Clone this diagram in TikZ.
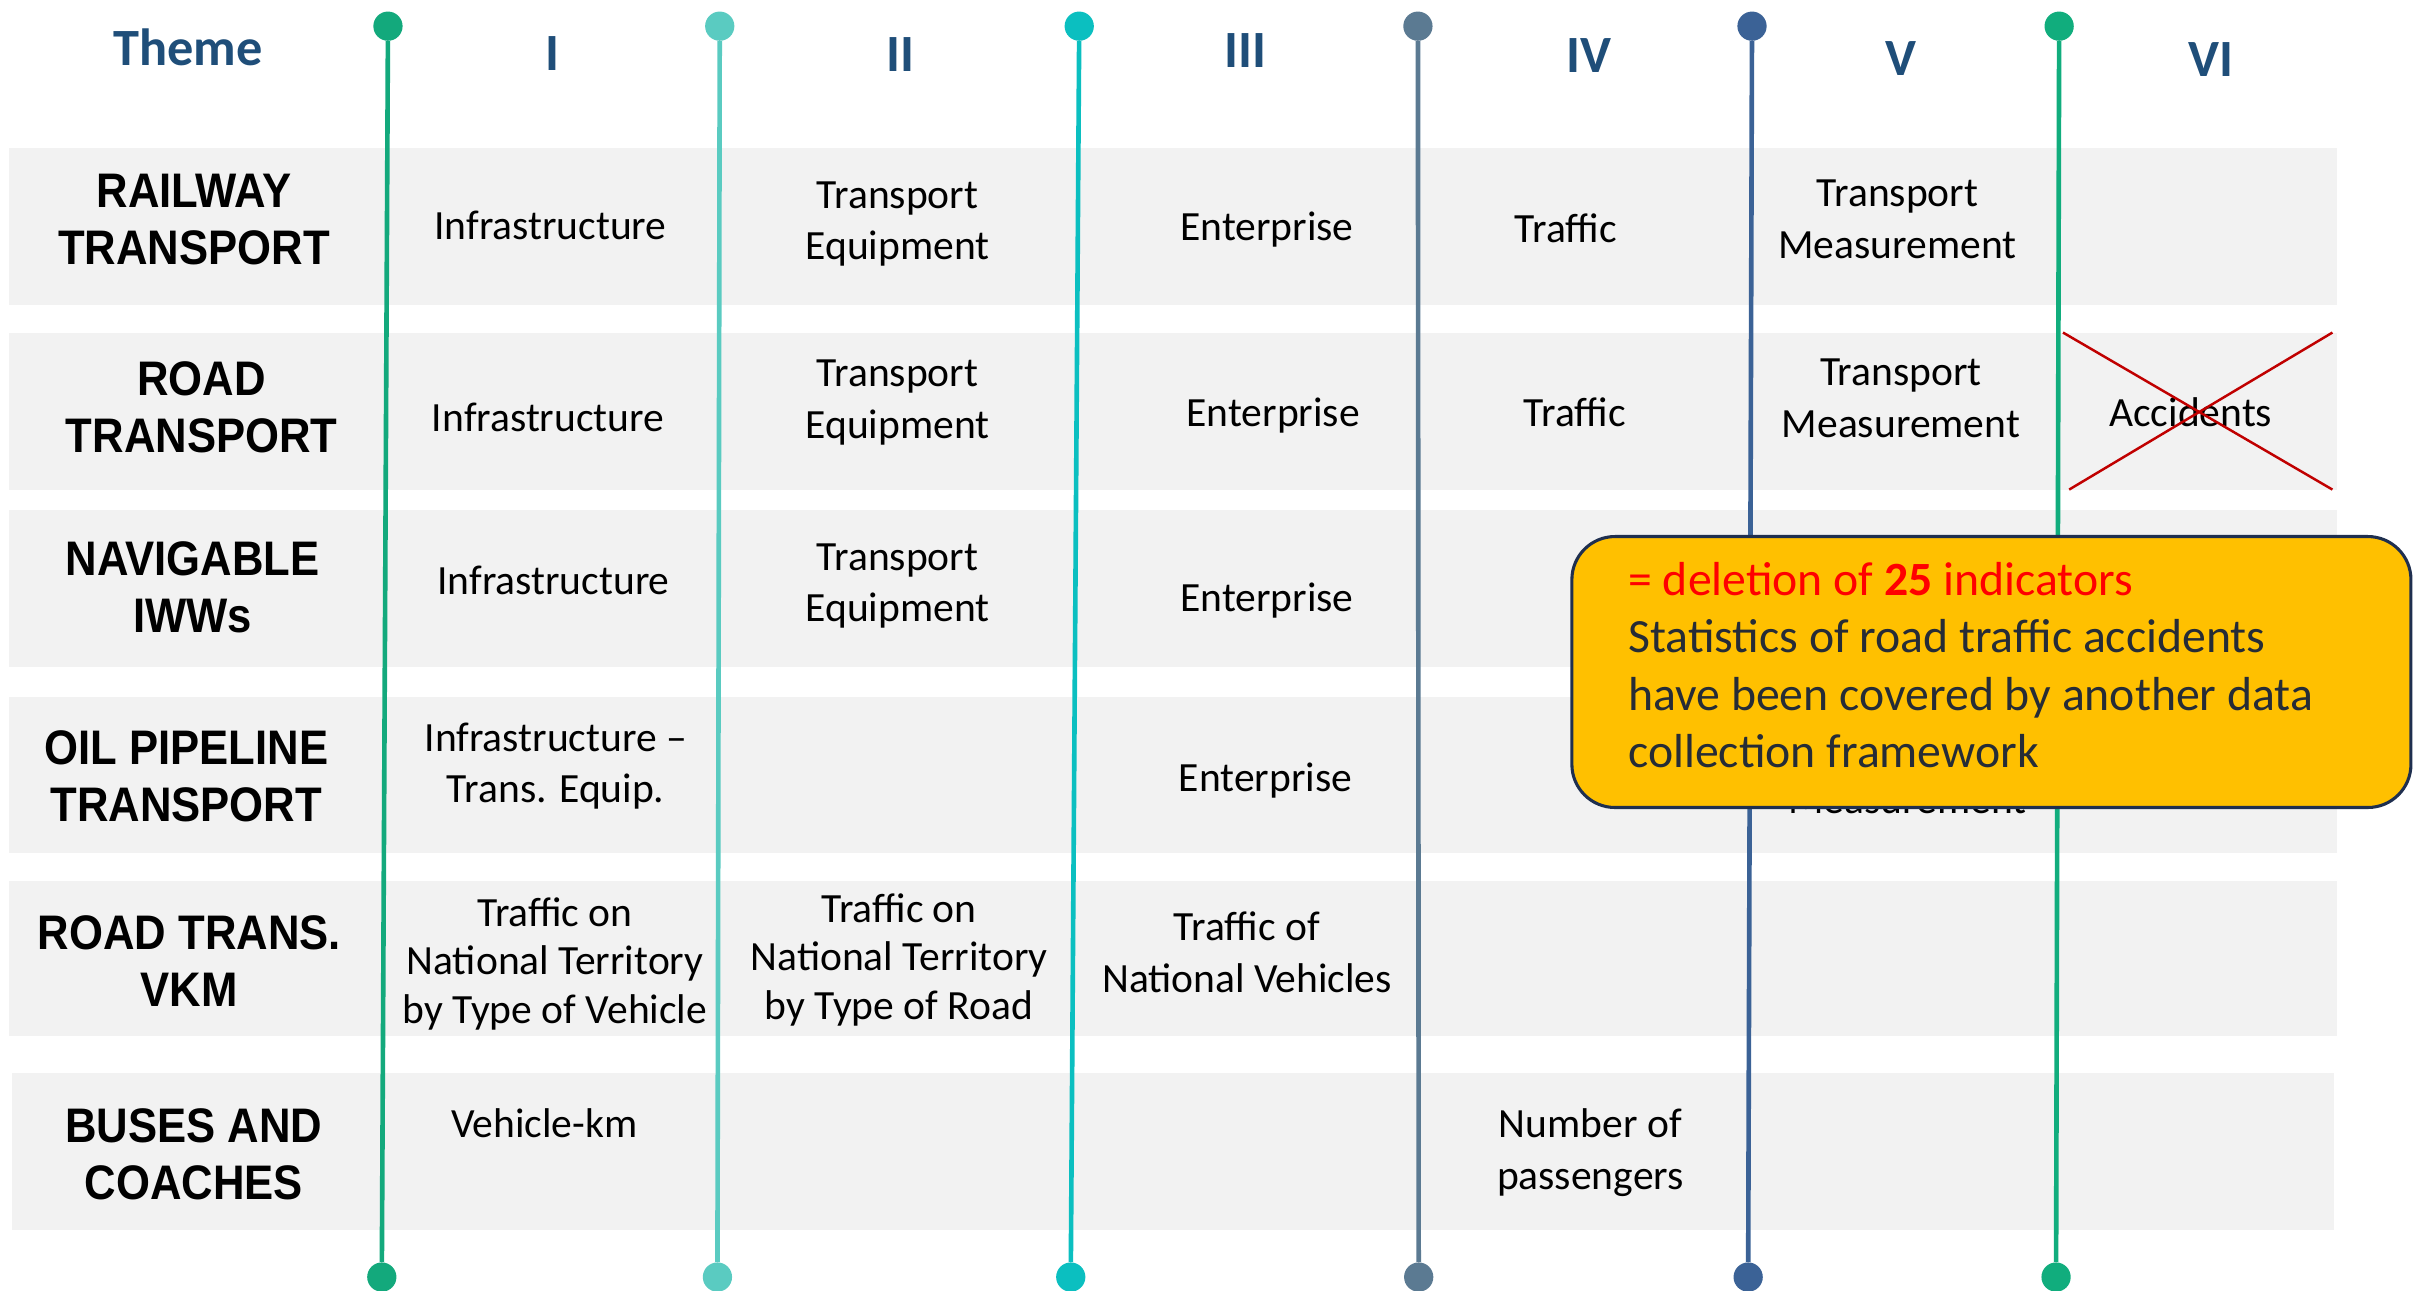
\documentclass[tikz,border=0pt]{standalone}
\usepackage{fontspec}
\setmainfont{Carlito}
\newfontfamily\rowfont{Liberation Sans}[FakeStretch=0.9]
\definecolor{bandgray}{HTML}{F2F2F2}
\definecolor{headblue}{HTML}{1F4E79}
\definecolor{lineone}{HTML}{13A97C}
\definecolor{linetwo}{HTML}{5ACBC1}
\definecolor{linethree}{HTML}{0BBFC0}
\definecolor{linefour}{HTML}{5B7A92}
\definecolor{linefive}{HTML}{3B6296}
\definecolor{linesix}{HTML}{11AD7D}
\definecolor{noteyellow}{HTML}{FFC000}
\definecolor{notenavy}{HTML}{1F2F4F}
\definecolor{notegray}{HTML}{262C36}
\definecolor{crossred}{HTML}{C00000}
\begin{document}
\begin{tikzpicture}
    [x=1pt, y=-1pt,
     cell/.style={align=center, font=\fontsize{27}{33.5}\selectfont},
     tallcell/.style={align=center, font=\fontsize{27}{31.5}\selectfont},
     rowhead/.style={align=center, font=\rowfont\bfseries\fontsize{31.5}{37}\selectfont},
     colhead/.style={text=headblue, font=\bfseries\fontsize{34}{40}\selectfont},
     rowband/.style={fill=bandgray},
     enddot/.style={circle, fill=#1, minimum size=19pt, inner sep=0pt},
     spine/.style={line width=3pt, draw=#1},
     notebox/.style={draw=notenavy, line width=2pt, fill=noteyellow, rounded corners=28pt,
        minimum width=545pt, minimum height=176pt, anchor=north west},
     notetext/.style={align=left, anchor=west, inner sep=0pt, text=notegray,
        font=\fontsize{31}{37.4}\selectfont},
     strikeline/.style={draw=crossred, line width=1.6pt}]
    \useasboundingbox (0,0) rectangle (1568,838);
    \fill[rowband] (6,96) rectangle (1518,198);
    \fill[rowband] (6,216) rectangle (1518,318);
    \fill[rowband] (6,331) rectangle (1518,433);
    \fill[rowband] (6,453) rectangle (1518,554);
    \fill[rowband] (6,572) rectangle (1518,673);
    \fill[rowband] (8,697) rectangle (1516,799);
    \node[enddot=lineone] (top1) at (252,17) {};
    \node[enddot=lineone] (bot1) at (248,829.5) {};
    \draw[spine=lineone] (top1) -- (bot1);
    \node[enddot=linetwo] (top2) at (467.5,17) {};
    \node[enddot=linetwo] (bot2) at (466,829.5) {};
    \draw[spine=linetwo] (top2) -- (bot2);
    \node[enddot=linethree] (top3) at (701,17) {};
    \node[enddot=linethree] (bot3) at (695.5,829.5) {};
    \draw[spine=linethree] (top3) -- (bot3);
    \node[enddot=linefour] (top4) at (921,17) {};
    \node[enddot=linefour] (bot4) at (921.5,829.5) {};
    \draw[spine=linefour] (top4) -- (bot4);
    \node[enddot=linefive] (top5) at (1138,17) {};
    \node[enddot=linefive] (bot5) at (1135.5,829.5) {};
    \draw[spine=linefive] (top5) -- (bot5);
    \node[enddot=linesix] (top6) at (1337.5,17) {};
    \node[enddot=linesix] (bot6) at (1335.5,829.5) {};
    \draw[spine=linesix] (top6) -- (bot6);
    \node[colhead] (theme) at (122,31) {Theme};
    \node[colhead] (col1) at (358.7,35) {I};
    \node[colhead] (col2) at (584.6,35.7) {II};
    \node[colhead] (col3) at (809,33) {III};
    \node[colhead] (col4) at (1032,36) {IV};
    \node[colhead] (col5) at (1235,38) {V};
    \node[colhead] (col6) at (1436,38.8) {VI};
    \node[rowhead] (rail) at (126,142.5) {RAILWAY\\TRANSPORT};
    \node[rowhead] (road) at (131,264.5) {ROAD\\TRANSPORT};
    \node[rowhead] (iww) at (125,381.5) {NAVIGABLE\\IWWs};
    \node[rowhead] (pipe) at (121,504) {OIL PIPELINE\\TRANSPORT};
    \node[rowhead] (vkm) at (123,624) {ROAD TRANS.\\VKM};
    \node[rowhead] (bus) at (126,749.5) {BUSES AND\\COACHES};
    \node[cell] (rail1) at (357.5,146.6) {Infrastructure};
    \node[cell] (rail2) at (583,145.5) {Transport\\Equipment};
    \node[cell] (rail3) at (823,149) {Enterprise};
    \node[cell] (rail4) at (1017,148.3) {Traffic};
    \node[cell] (rail5) at (1232.5,142.4) {Transport\\Measurement};
    \node[cell] (road1) at (356,271) {Infrastructure};
    \node[cell] (road2) at (583,261.5) {Transport\\Equipment};
    \node[cell] (road3) at (827,270) {Enterprise};
    \node[cell] (road4) at (1023,268) {Traffic};
    \node[cell] (road5) at (1234.7,258.8) {Transport\\Measurement};
    \node[cell] (road6) at (1423,268) {Accidents};
    \draw[strikeline] (1340,216) -- (1515,318);
    \draw[strikeline] (1515,216) -- (1344,318);
    \node[cell] (iww1) at (359.5,377) {Infrastructure};
    \node[cell] (iww2) at (583,380.5) {Transport\\Equipment};
    \node[cell] (iww3) at (823,390) {Enterprise};
    \node[cell] (pipe1) at (361,497.5) {Infrastructure --\\Trans. Equip.};
    \node[cell] (pipe3) at (822,507) {Enterprise};
    \node[cell] (pipe5) at (1239,503) {Transport\\Measurement};
    \node[tallcell] (vkm1) at (360.5,626) {Traffic on\\National Territory\\by Type of Vehicle};
    \node[tallcell] (vkm2) at (584,623.5) {Traffic on\\National Territory\\by Type of Road};
    \node[cell] (vkm3) at (810,618.5) {Traffic of\\National Vehicles};
    \node[cell] (bus1) at (353.5,729.6) {Vehicle-km};
    \node[cell] (bus4) at (1033,748.5) {Number of\\passengers};
    \node[notebox] (note) at (1020,347.5) {};
    \node[notetext] (notebody) at (1057.5,432) {\textcolor{red}{= deletion of \textbf{25} indicators}\\Statistics of road traffic accidents\\have been covered by another data\\collection framework};
\end{tikzpicture}
\end{document}
